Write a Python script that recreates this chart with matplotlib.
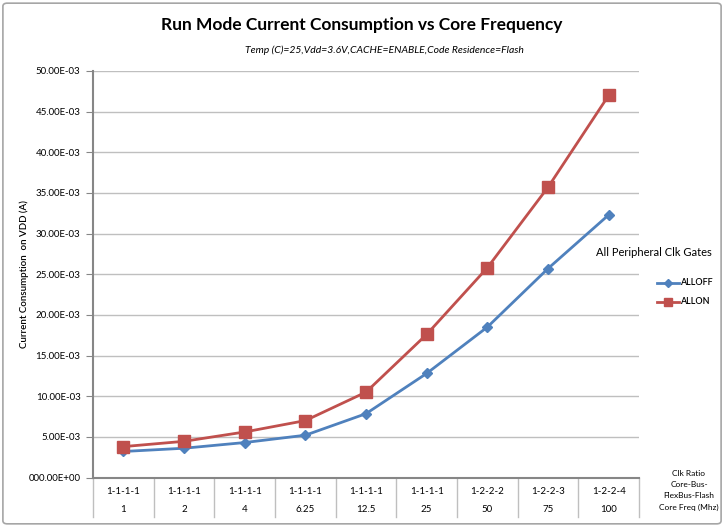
import matplotlib
matplotlib.use("Agg")
import matplotlib.pyplot as plt
import matplotlib.transforms as mtransforms
from matplotlib.patches import FancyBboxPatch
from matplotlib.lines import Line2D

# ── Дані ───────────────────────────────────────────────
clk_ratio  = ["1-1-1-1", "1-1-1-1", "1-1-1-1", "1-1-1-1", "1-1-1-1",
              "1-1-1-1", "1-2-2-2", "1-2-2-3", "1-2-2-4"]
core_freq  = ["1", "2", "4", "6.25", "12.5", "25", "50", "75", "100"]
alloff     = [3.2e-3, 3.6e-3, 4.3e-3, 5.2e-3, 7.85e-3, 12.8e-3, 18.5e-3, 25.7e-3, 32.3e-3]
allon      = [3.8e-3, 4.45e-3, 5.6e-3, 7.0e-3, 10.5e-3, 17.6e-3, 25.8e-3, 35.7e-3, 47.0e-3]
yticks     = [0, 5e-3, 10e-3, 15e-3, 20e-3, 25e-3, 30e-3, 35e-3, 40e-3, 45e-3, 50e-3]
ytick_lbls = ["000.00E+00", "5.00E-03", "10.00E-03", "15.00E-03", "20.00E-03",
              "25.00E-03", "30.00E-03", "35.00E-03", "40.00E-03", "45.00E-03",
              "50.00E-03"]

BLUE = '#4F81BD'
RED  = '#C0504D'
FONT = ['Lato', 'DejaVu Sans']
plt.rcParams['font.family'] = FONT

fig = plt.figure(figsize=(7.24, 5.27), dpi=100)
fig.patch.set_facecolor('white')

# рамка навколо діаграми
fig.patches.append(FancyBboxPatch((0.004, 0.006), 0.992, 0.988,
                                  boxstyle='round,pad=0,rounding_size=0.006',
                                  transform=fig.transFigure, fc='none',
                                  ec='#A6A6A6', lw=1.2))

W, H = 724, 527
ax = fig.add_axes([93/W, 1 - 477.5/H, (639-93)/W, (477.5-71)/H])
x = list(range(len(core_freq)))

series = [("ALLOFF", alloff, BLUE, 'D', 5.5), ("ALLON", allon, RED, 's', 8)]
for name, vals, col, mk, ms in series:
    ax.plot(x, vals, color=col, lw=2, marker=mk, ms=ms, mec=col, mfc=col,
            label=name, zorder=4)

ax.set_xlim(-0.5, len(x) - 0.5)
ax.set_ylim(0, 50e-3)
ax.set_yticks(yticks)
ax.set_yticklabels(ytick_lbls, fontsize=7)
ax.set_xticks([])
ax.grid(True, axis='y', color='#BFBFBF', lw=1)
ax.set_axisbelow(True)
for s in ['top', 'right']:
    ax.spines[s].set_visible(False)
ax.spines['left'].set_color('#868686')
ax.spines['bottom'].set_color('#868686')
ax.spines['left'].set_linewidth(1.5)
ax.spines['bottom'].set_linewidth(1.5)
ax.tick_params(axis='y', length=5, color='#868686', pad=4)

ax.set_ylabel('Current Consumption  on VDD (A)', fontsize=7, fontweight='semibold')
ax.yaxis.set_label_coords(-0.118, 0.5)

# ── Таблиця категорій ──────────────────────────────────
trans = mtransforms.blended_transform_factory(ax.transData, ax.transAxes)
y_bot = (477.5 - 517) / 406.5
for b in [i - 0.5 for i in range(len(x) + 1)]:
    ax.add_line(Line2D([b, b], [0, y_bot], transform=trans, color='#BFBFBF',
                       lw=1, clip_on=False))
for i in x:
    ax.text(i, (477.5 - 492) / 406.5, clk_ratio[i], transform=trans,
            ha='center', va='center', fontsize=7)
    ax.text(i, (477.5 - 510) / 406.5, core_freq[i], transform=trans,
            ha='center', va='center', fontsize=7)

fig.text(689/W, 1 - 474/H, 'Clk Ratio', ha='center', va='center', fontsize=6)
fig.text(689/W, 1 - 484.5/H, 'Core-Bus-', ha='center', va='center', fontsize=6)
fig.text(689/W, 1 - 495/H, 'FlexBus-Flash', ha='center', va='center', fontsize=6)
fig.text(689/W, 1 - 507/H, 'Core Freq (Mhz)', ha='center', va='center', fontsize=6)

# ── Заголовки ──────────────────────────────────────────
fig.text(362/W, 1 - 25/H, 'Run Mode Current Consumption vs Core Frequency',
         ha='center', va='center', fontsize=12.5, fontweight='bold')
fig.text(384/W, 1 - 50/H, 'Temp (C)=25,Vdd=3.6V,CACHE=ENABLE,Code Residence=Flash',
         ha='center', va='center', fontsize=7.5, style='italic')

# ── Легенда (вручну) ───────────────────────────────────
fig.text(654/W, 1 - 252/H, 'All Peripheral Clk Gates', ha='center', va='center',
         fontsize=8)
for k, (name, vals, col, mk, ms) in enumerate(series):
    yy = 1 - (282.5 + 19.5 * k) / H
    fig.add_artist(Line2D([657/W, 679/W], [yy, yy], color=col, lw=2,
                          transform=fig.transFigure))
    fig.add_artist(Line2D([668/W], [yy], color=col, marker=mk,
                          ms=ms * 0.75, mec=col, mfc=col,
                          transform=fig.transFigure))
    fig.text(680/W, yy, name, ha='left', va='center', fontsize=6.5,
             fontweight='semibold')

fig.savefig('out.png', dpi=100)
